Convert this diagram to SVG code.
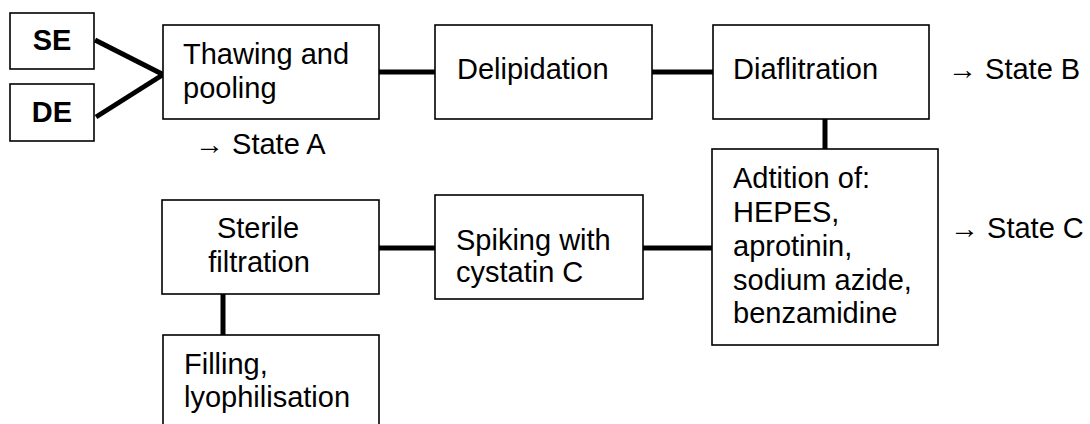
<svg xmlns="http://www.w3.org/2000/svg" width="1090" height="424" viewBox="0 0 1090 424">
<style>
.box{fill:#fff;stroke:#000;stroke-width:1.6}
.t{font-family:"Liberation Sans",Arial,sans-serif;font-size:29px;fill:#000}
.b{font-weight:bold;text-anchor:middle}
.c{stroke:#000;stroke-width:5;fill:none}
</style>
<rect width="1090" height="424" fill="#fff"/>
<g id="connectors">
<line class="c" x1="95" y1="40" x2="164" y2="75"/>
<line class="c" x1="96" y1="117" x2="164" y2="74"/>
<line class="c" x1="379" y1="72" x2="435" y2="72"/>
<line class="c" x1="652" y1="72" x2="713" y2="72"/>
<line class="c" x1="825" y1="119" x2="825" y2="149"/>
<line class="c" x1="643" y1="248" x2="712" y2="248"/>
<line class="c" x1="379" y1="248" x2="435" y2="248"/>
<line class="c" x1="223" y1="294" x2="223" y2="335"/>
</g>
<g id="se">
<rect class="box" x="10" y="13" width="84" height="56"/>
<text class="t b" x="52" y="50">SE</text>
</g>
<g id="de">
<rect class="box" x="10" y="84" width="84" height="57"/>
<text class="t b" x="52" y="122">DE</text>
</g>
<g id="thawing">
<rect class="box" x="163" y="25" width="216" height="94"/>
<text class="t" x="183" y="64">Thawing and</text>
<text class="t" x="183" y="98">pooling</text>
</g>
<g id="stateA"><text class="t" x="195" y="154">→ State A</text></g>
<g id="delipidation">
<rect class="box" x="435" y="25" width="217" height="94"/>
<text class="t" x="457" y="79">Delipidation</text>
</g>
<g id="diafiltration">
<rect class="box" x="713" y="25" width="216" height="94"/>
<text class="t" x="733" y="79">Diaflitration</text>
</g>
<g id="stateB"><text class="t" x="948" y="79">→ State B</text></g>
<g id="addition">
<rect class="box" x="712" y="149" width="226" height="196"/>
<text class="t" x="733" y="188">Adtition of:</text>
<text class="t" x="733" y="222">HEPES,</text>
<text class="t" x="733" y="256">aprotinin,</text>
<text class="t" x="733" y="290">sodium azide,</text>
<text class="t" x="733" y="323">benzamidine</text>
</g>
<g id="stateC"><text class="t" x="950" y="238">→ State C</text></g>
<g id="spiking">
<rect class="box" x="435" y="195" width="208" height="104"/>
<text class="t" x="456" y="250">Spiking with</text>
<text class="t" x="456" y="282">cystatin C</text>
</g>
<g id="sterile">
<rect class="box" x="162" y="200" width="217" height="94"/>
<text class="t" x="258" y="238" text-anchor="middle">Sterile</text>
<text class="t" x="259" y="272" text-anchor="middle">filtration</text>
</g>
<g id="filling">
<rect class="box" x="163" y="335" width="216" height="100"/>
<text class="t" x="184" y="374">Filling,</text>
<text class="t" x="184" y="407">lyophilisation</text>
</g>
</svg>
